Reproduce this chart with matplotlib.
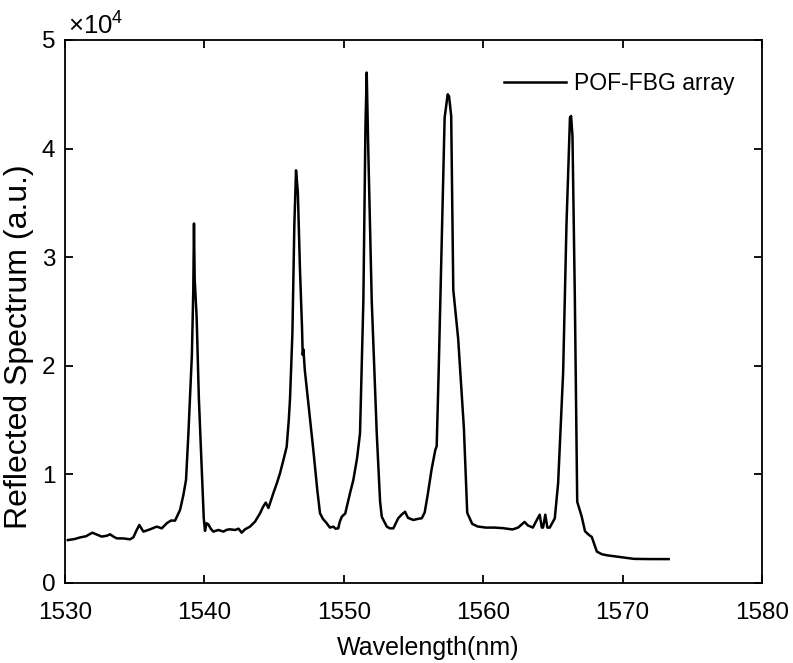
import matplotlib
matplotlib.use("Agg")
import matplotlib.pyplot as plt
import numpy as np

plt.rcParams['font.family'] = ['Liberation Sans', 'DejaVu Sans']
plt.rcParams['mathtext.fontset'] = 'custom'
plt.rcParams['mathtext.rm'] = 'Liberation Sans'
plt.rcParams['mathtext.it'] = 'Liberation Sans'

wavelength = [
    1530.2, 1530.7, 1531.1, 1531.5, 1531.96, 1532.3, 1532.63, 1533.0, 1533.23, 1533.5,
    1533.71, 1534.2, 1534.66, 1534.9, 1535.15, 1535.33, 1535.62, 1536.1, 1536.58, 1536.94,
    1537.3, 1537.6, 1537.89, 1538.25, 1538.49, 1538.68, 1538.85, 1539.0, 1539.1, 1539.2,
    1539.25, 1539.3, 1539.44, 1539.6, 1539.8, 1539.95, 1540.04, 1540.15, 1540.28, 1540.45,
    1540.64, 1541.0, 1541.36, 1541.6, 1541.84, 1542.2, 1542.45, 1542.67, 1542.91, 1543.27,
    1543.63, 1543.99, 1544.2, 1544.4, 1544.59, 1544.94, 1545.2, 1545.42, 1545.7, 1545.9,
    1546.05, 1546.14, 1546.31, 1546.45, 1546.57, 1546.7, 1546.85, 1547.0, 1547.05, 1547.1,
    1547.2, 1547.81, 1548.1, 1548.29, 1548.5, 1548.77, 1549.0, 1549.25, 1549.4, 1549.6,
    1549.7, 1549.85, 1550.1, 1550.44, 1550.68, 1550.95, 1551.16, 1551.4, 1551.55, 1551.64,
    1551.75, 1552.0, 1552.36, 1552.6, 1552.72, 1553.08, 1553.3, 1553.55, 1553.9, 1554.15,
    1554.39, 1554.6, 1554.99, 1555.3, 1555.59, 1555.8, 1556.0, 1556.3, 1556.56, 1556.66,
    1556.8, 1556.99, 1557.23, 1557.45, 1557.55, 1557.7, 1557.85, 1558.2, 1558.61, 1558.85,
    1559.21, 1559.6, 1560.18, 1560.8, 1561.4, 1562.1, 1562.5, 1562.96, 1563.2, 1563.56,
    1563.8, 1564.05, 1564.2, 1564.29, 1564.45, 1564.6, 1564.77, 1565.13, 1565.37, 1565.73,
    1565.97, 1566.22, 1566.3, 1566.4, 1566.57, 1566.74, 1567.06, 1567.3, 1567.6, 1567.78,
    1568.15, 1568.5, 1568.87, 1569.84, 1570.8, 1572.0, 1573.3,
]
spectrum = [
    3950, 4050, 4200, 4300, 4630, 4450, 4270, 4350, 4480, 4250,
    4110, 4100, 4020, 4200, 4900, 5340, 4730, 4940, 5190, 5030,
    5500, 5750, 5740, 6720, 8100, 9500, 13780, 18000, 21000, 27000,
    33100, 28000, 24500, 17000, 10700, 6000, 4800, 5500, 5400, 5000,
    4730, 4880, 4730, 4900, 4940, 4880, 5000, 4630, 4940, 5190,
    5650, 6420, 7000, 7400, 6900, 8260, 9200, 10100, 11500, 12550,
    15000, 17000, 23000, 33000, 38000, 36000, 29000, 23500, 21000, 21500,
    19600, 12250, 8500, 6420, 5900, 5500, 5100, 5190, 5000, 5030,
    5600, 6100, 6400, 8260, 9480, 11500, 13780, 26000, 42000, 47000,
    40000, 26000, 13780, 7500, 6100, 5190, 5030, 5030, 5960, 6300,
    6560, 6000, 5800, 5900, 5960, 6500, 8000, 10500, 12250, 12600,
    19400, 29600, 42850, 45000, 44800, 43000, 27000, 22500, 14280, 6460,
    5440, 5200, 5100, 5100, 5050, 4930, 5100, 5620, 5300, 5100,
    5700, 6290, 5100, 5100, 6290, 5100, 5100, 5950, 9180, 19400,
    33000, 42850, 43000, 41160, 26190, 7480, 6120, 4760, 4400, 4250,
    2890, 2650, 2550, 2380, 2220, 2200, 2200,
]

x_ticks = [1530, 1540, 1550, 1560, 1570, 1580]
y_ticks = [0, 1e4, 2e4, 3e4, 4e4, 5e4]
y_ticklabels = ['0', '1', '2', '3', '4', '5']

fig = plt.figure(figsize=(7.93, 6.63), dpi=100)
ax = fig.add_axes([0.082, 0.1207, 0.879, 0.819])
ax.plot(wavelength, spectrum, color='black', linewidth=1.8, label='POF-FBG array')

ax.set_xlim(1530, 1580)
ax.set_ylim(0, 5e4)
ax.set_xticks(x_ticks)
ax.set_yticks(y_ticks)
ax.set_yticklabels(y_ticklabels)
ax.tick_params(direction='in', top=True, right=True, length=6, width=1.3,
               labelsize=17.5)
ax.tick_params(axis='x', pad=14)
ax.tick_params(axis='y', pad=7)
for s in ax.spines.values():
    s.set_linewidth(1.3)

ax.set_xlabel('Wavelength(nm)', fontsize=18)
ax.xaxis.set_label_coords(0.5215, -0.098)
ax.set_ylabel('Reflected Spectrum (a.u.)', fontsize=23)
ax.yaxis.set_label_coords(-0.045, 0.435)
ax.text(0.004, 1.009, '×10$^{4}$', transform=ax.transAxes, ha='left',
        va='baseline', fontsize=18.5)

leg = ax.legend(loc='upper right', frameon=False, fontsize=16.5, handlelength=2.7,
                handletextpad=0.35, borderaxespad=0.0,
                bbox_to_anchor=(0.974, 0.957))

fig.savefig('out.png', dpi=100)
